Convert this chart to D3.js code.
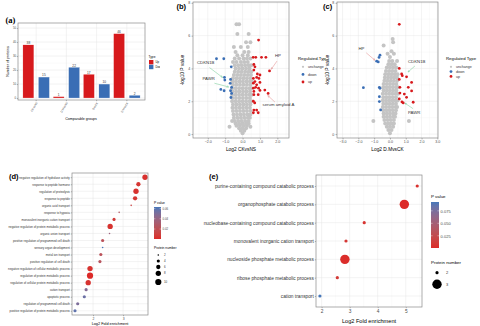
<!DOCTYPE html>
<html>
<head>
<meta charset="utf-8">
<script src="https://cdn.jsdelivr.net/npm/d3@7/dist/d3.min.js"></script>
<style>
  body { margin: 0; background: #fff; }
  svg { display: block; font-family: "Liberation Sans", Arial, sans-serif; }
</style>
</head>
<body>
<div id="chart"></div>
<script>
// (a) differentially expressed proteins per comparison
const groups = ["CKvsNS", "D.MvsNS", "DvsCK", "D.MvsCK"];
const types = ["Up", "Down"];
const upCounts = [38, 1, 17, 46];
const downCounts = [15, 22, 10, 2];
const countTicks = [0, 10, 20, 30, 40, 50];

// (b) volcano CKvsNS : [log2 fc, -log10 p]
const upB = [[0.92,5.73],[0.61,4.68],[0.76,4.68],[1.09,4.68],[1.34,4.68],[0.65,4.24],[0.71,4.1],[0.65,3.9],
  [1.55,3.85],[0.85,3.66],[1.0,3.6],[0.81,3.45],[0.94,3.39],[0.62,3.39],[0.71,3.2],[0.62,3.1],[0.81,3.0],
  [1.0,3.15],[0.75,2.85],[0.92,2.8],[0.62,2.8],[0.65,2.6],[1.0,2.66],[1.28,2.68],[1.47,2.48],[0.9,2.4],
  [0.65,2.4],[0.62,2.0],[0.7,1.9],[0.65,1.46],[0.81,1.46],[0.62,1.3],[0.9,1.3]];
const downB = [[-1.5,4.59],[-1.08,4.59],[-0.65,4.1],[-1.04,3.45],[-1.02,3.29],[-0.69,3.33],[-0.71,3.09],
  [-0.63,2.84],[-1.25,2.72],[-1.06,2.64],[-0.69,2.64],[-0.63,2.48],[-0.67,2.23]];
// unchanged proteins, one row per -log10 p level
const greyB = [
  [0.05,[0.0]],[0.2,[-0.1,0.1]],[0.35,[-0.2,0.0,0.2]],[0.45,[-0.75,0.45]],[0.5,[-0.35,-0.15,0.05,0.25]],
  [0.65,[-0.4,-0.2,0.0,0.2,0.35]],[0.8,[-0.6,-0.45,-0.25,-0.05,0.15,0.35]],[1.0,[-0.5,-0.3,-0.1,0.1,0.3,0.42]],
  [1.2,[-0.52,-0.32,-0.12,0.08,0.28,0.45]],[1.4,[-0.55,-0.35,-0.15,0.05,0.25,0.45]],
  [1.6,[-0.58,-0.38,-0.18,0.02,0.22,0.42]],[1.8,[-0.55,-0.35,-0.15,0.05,0.25,0.45]],
  [2.0,[-0.6,-0.4,-0.2,0.0,0.2,0.4,0.5]],[2.2,[-0.58,-0.38,-0.18,0.02,0.22,0.42]],
  [2.4,[-0.6,-0.4,-0.2,0.0,0.2,0.4,0.52]],[2.6,[-0.57,-0.37,-0.17,0.03,0.23,0.43]],
  [2.8,[-0.6,-0.4,-0.2,0.0,0.2,0.4,0.5]],[3.0,[-0.55,-0.35,-0.15,0.05,0.25,0.45]],
  [3.2,[-0.58,-0.38,-0.18,0.02,0.22,0.42,0.52]],[3.4,[-0.55,-0.35,-0.15,0.05,0.25,0.45]],
  [3.6,[-0.5,-0.3,-0.1,0.1,0.3,0.48]],[3.8,[-0.45,-0.25,-0.05,0.15,0.35,0.5]],
  [4.0,[-0.4,-0.2,0.0,0.2,0.4]],[4.2,[-0.45,-0.25,-0.05,0.15,0.35,0.5]],[4.4,[-0.55,-0.35,-0.1,0.1,0.3]],
  [4.6,[-0.45,-0.2,0.05,0.25,0.45]],[4.8,[-0.3,0.0,0.3]],[5.0,[-0.4,0.1,0.35]],[5.3,[-0.5,-0.1,0.3]],
  [5.6,[0.2,0.45]],[6.1,[-0.3,0.35]],[6.7,[-0.35,-0.2]]
];
const genesB = ["CDKN1B", "PAWR", "HP", "serum amyloid A"];

// (c) volcano D.MvsCK
const upC = [[0.59,6.69],[0.59,4.0],[0.74,3.66],[0.78,3.56],[1.05,3.49],[0.59,3.33],[1.37,3.15],[0.63,2.85],
  [1.16,2.85],[1.37,2.63],[0.91,2.44],[0.63,2.5],[1.05,2.24],[0.59,2.14],[0.76,1.96],[0.84,1.9],[1.47,1.94]];
const downC = [[-0.63,4.81],[-0.69,4.67],[-0.84,4.44],[-0.74,4.4],[-1.68,2.83],[-0.67,2.85],[-0.63,2.79],
  [-0.67,2.28],[-0.67,1.98],[-0.59,1.47]];
const greyC = [
  [0.05,[0.0]],[0.25,[-0.1,0.1]],[0.45,[-0.2,0.0,0.2]],[0.65,[-0.3,-0.1,0.1,0.25]],[0.8,[-1.05,1.2]],
  [0.85,[-0.35,-0.15,0.05,0.25]],[1.05,[-0.4,-0.2,0.0,0.2,0.32]],[1.25,[-0.4,-0.2,0.0,0.2,0.35]],
  [1.45,[-0.42,-0.22,-0.02,0.18,0.38]],[1.65,[-0.45,-0.25,-0.05,0.15,0.35,0.45]],
  [1.85,[-0.42,-0.22,-0.02,0.18,0.38]],[2.05,[-0.45,-0.25,-0.05,0.15,0.35,0.48]],
  [2.25,[-0.42,-0.22,-0.02,0.18,0.38]],[2.45,[-0.45,-0.25,-0.05,0.15,0.35,0.5]],
  [2.65,[-0.4,-0.2,0.0,0.2,0.4]],[2.85,[-0.42,-0.22,-0.02,0.18,0.38,0.5]],[3.05,[-0.4,-0.2,0.0,0.2,0.4]],
  [3.25,[-0.35,-0.15,0.05,0.25,0.45]],[3.45,[-0.32,-0.12,0.08,0.28,0.45]],[3.65,[-0.3,-0.1,0.1,0.3,0.48]],
  [3.85,[-0.25,-0.05,0.15,0.35]],[4.05,[-0.2,0.0,0.2,0.4]],[4.25,[-0.1,0.1,0.3]],[4.45,[-0.05,0.15,0.45]],
  [4.7,[0.0]],[4.9,[-0.15,0.25]],[5.05,[0.1]],[5.4,[-0.4]],[5.6,[0.2]],[5.8,[0.17]]
];
const genesC = ["HP", "CDKN1B", "PAWR"];
const regTypes = ["unchange", "down", "up"];

// (d) GO terms
const termsD = [
  "negative regulation of hydrolase activity", "response to peptide hormone", "regulation of proteolysis",
  "response to peptide", "organic acid transport", "response to hypoxia", "monovalent inorganic cation transport",
  "negative regulation of protein metabolic process", "organic anion transport",
  "positive regulation of programmed cell death", "sensory organ development", "metal ion transport",
  "positive regulation of cell death", "negative regulation of cellular metabolic process",
  "regulation of protein metabolic process", "regulation of cellular protein metabolic process",
  "cation transport", "apoptotic process", "regulation of programmed cell death",
  "positive regulation of protein metabolic process"
];
const foldD = [3.73, 3.51, 3.43, 3.4, 3.27, 2.87, 2.7, 2.57, 2.55, 2.32, 2.32, 2.26, 2.23, 1.9, 1.9, 1.84, 1.77, 1.71, 1.49, 1.4];
const pD = [0.003, 0.005, 0.004, 0.006, 0.012, 0.028, 0.008, 0.004, 0.038, 0.022, 0.063, 0.022, 0.024, 0.004, 0.0005, 0.004, 0.048, 0.055, 0.05, 0.058];
const countD = [8, 6, 8, 6, 2, 2, 4, 8, 2, 4, 2, 4, 4, 8, 10, 8, 4, 4, 4, 4];
const sizeTicksD = [2, 4, 6, 8, 10];
const pTicksD = [0.02, 0.04, 0.06];

// (e) GO terms
const termsE = [
  "purine-containing compound catabolic process", "organophosphate catabolic process",
  "nucleobase-containing compound catabolic process", "monovalent inorganic cation transport",
  "nucleoside phosphate metabolic process", "ribose phosphate metabolic process", "cation transport"
];
const foldE = [5.41, 4.95, 3.52, 2.87, 2.83, 2.56, 1.94];
const pE = [0.004, 0.0005, 0.006, 0.008, 0.002, 0.01, 0.0927];
const countE = [2, 3, 2, 2, 3, 2, 2];
const sizeTicksE = [2, 3];
const pTicksE = [0.025, 0.05, 0.075];

const RED = "#d7191c", BLUE = "#3a6eb5", GREY = "#c4c4c4";
const FRAME = "#8a8a8a", MAJ = "#e4e4e4", MIN = "#f1f1f1";
const PLOW = "#dc2a28", PHIGH = "#4777b9";

const svg = d3.select("#chart").append("svg").attr("width", 480).attr("height", 326);
const defs = svg.append("defs");

function styleAxis(sel, fs, col) {
  sel.attr("font-family", null).attr("font-size", fs);
  sel.select(".domain").remove();
  sel.selectAll(".tick line").attr("stroke", "#555").attr("stroke-width", 0.4);
  sel.selectAll(".tick text").attr("fill", col || "#4d4d4d");
}

function vLines(g, vals, x, y0, y1, col, w) {
  g.append("g").selectAll("line").data(vals).join("line")
    .attr("x1", d => x(d)).attr("x2", d => x(d)).attr("y1", y0).attr("y2", y1)
    .attr("stroke", col).attr("stroke-width", w);
}
function hLines(g, vals, y, x0, x1, col, w) {
  g.append("g").selectAll("line").data(vals).join("line")
    .attr("y1", d => y(d)).attr("y2", d => y(d)).attr("x1", x0).attr("x2", x1)
    .attr("stroke", col).attr("stroke-width", w);
}
function frame(g, x0, y0, x1, y1) {
  g.append("rect").attr("x", x0).attr("y", y0).attr("width", x1 - x0).attr("height", y1 - y0)
    .attr("fill", "none").attr("stroke", FRAME).attr("stroke-width", 0.7);
}
function panelLabel(txt, x, y, serif) {
  svg.append("text").attr("x", x).attr("y", y).text(txt)
    .attr("font-size", serif ? 8.5 : 7.5).attr("font-weight", "bold")
    .attr("font-family", serif ? "Liberation Serif, serif" : null);
}

// ---------------- (a) ----------------
{
  const g = svg.append("g");
  const x0 = d3.scaleBand().domain(groups).range([18, 145]).paddingOuter(0.1);
  const x1 = d3.scaleBand().domain(types).range([0, x0.bandwidth()]).paddingInner(0.29).paddingOuter(0.12);
  const y = d3.scaleLinear().domain([-1.4, 53.6]).range([100, 23]);
  const color = d3.scaleOrdinal().domain(types).range([RED, BLUE]);
  hLines(g, [5, 15, 25, 35, 45], y, 18, 145, MIN, 0.3);
  hLines(g, countTicks, y, 18, 145, MAJ, 0.45);
  vLines(g, groups.map(d => d), d => x0(d) + x0.bandwidth() / 2, 23, 100, MAJ, 0.45);
  const rows = groups.flatMap((grp, i) => [
    { grp, type: "Up", v: upCounts[i] }, { grp, type: "Down", v: downCounts[i] }
  ]);
  g.selectAll(".bar").data(rows).join("rect").attr("class", "bar")
    .attr("x", d => x0(d.grp) + x1(d.type)).attr("width", x1.bandwidth())
    .attr("y", d => y(d.v)).attr("height", d => y(0) - y(d.v))
    .attr("fill", d => color(d.type)).attr("stroke", "#fff").attr("stroke-width", 0.3);
  g.selectAll(".val").data(rows).join("text").attr("class", "val")
    .attr("x", d => x0(d.grp) + x1(d.type) + x1.bandwidth() / 2).attr("y", d => y(d.v) - 0.7)
    .attr("text-anchor", "middle").attr("font-size", 3.2).attr("fill", "#333").text(d => d.v);
  frame(g, 18, 23, 145, 100);
  const ay = g.append("g").attr("transform", "translate(18,0)")
    .call(d3.axisLeft(y).tickValues(countTicks).tickSize(1.2).tickPadding(0.8));
  styleAxis(ay, 2.8);
  const ax = g.append("g").attr("transform", "translate(0,100)")
    .call(d3.axisBottom(x0).tickSize(1.2));
  styleAxis(ax, 2.8);
  ax.selectAll(".tick text").attr("y", 0).attr("dy", 0).attr("text-anchor", "end")
    .attr("transform", "translate(1.5,2.8) rotate(-60)");
  g.append("text").attr("x", 81).attr("y", 120).attr("text-anchor", "middle")
    .attr("font-size", 3.6).text("Comparable groups");
  g.append("text").attr("transform", "translate(8.5,61.5) rotate(-90)").attr("text-anchor", "middle")
    .attr("font-size", 3.6).text("Number of proteins");
  defs.append("clipPath").attr("id", "clipA").append("rect")
    .attr("x", 140).attr("y", 40).attr("width", 20).attr("height", 40);
  const lg = g.append("g").attr("clip-path", "url(#clipA)");
  lg.append("text").attr("x", 148.5).attr("y", 58).attr("font-size", 3.2).text("Type");
  lg.selectAll("rect").data(types).join("rect")
    .attr("x", 149).attr("y", (d, i) => 60 + i * 4.8).attr("width", 4.4).attr("height", 4.4)
    .attr("fill", d => color(d));
  lg.selectAll(".lt").data(types).join("text").attr("class", "lt")
    .attr("x", 155.5).attr("y", (d, i) => 63.3 + i * 4.8).attr("font-size", 2.8).text(d => d);
  panelLabel("(a)", 5.5, 23, true);
}

// arrow markers
[["arrG", "#6cc891"], ["arrR", "#e08585"]].forEach(([id, c]) => {
  defs.append("marker").attr("id", id).attr("viewBox", "0 0 10 10").attr("refX", 9).attr("refY", 5)
    .attr("markerWidth", 5).attr("markerHeight", 5).attr("orient", "auto")
    .append("path").attr("d", "M0,1 L9,5 L0,9").attr("fill", "none").attr("stroke", c).attr("stroke-width", 1.5);
});

// ---------------- volcano ----------------
function volcano(o) {
  const g = svg.append("g");
  const x = d3.scaleLinear().domain(o.xDom).range([o.left, o.right]);
  const y = d3.scaleLinear().domain([-0.24, 8.05]).range([o.bottom, o.top]);
  vLines(g, o.xMinor, x, o.top, o.bottom, MIN, 0.3);
  hLines(g, [1, 3, 5, 7], y, o.left, o.right, MIN, 0.3);
  vLines(g, o.xTicks, x, o.top, o.bottom, MAJ, 0.45);
  hLines(g, [0, 2, 4, 6, 8], y, o.left, o.right, MAJ, 0.45);
  const grey = o.grey.flatMap(([yv, xs]) => xs.map(xv => [xv, yv]));
  g.append("g").selectAll("circle").data(grey).join("circle")
    .attr("cx", d => x(d[0])).attr("cy", d => y(d[1])).attr("r", 2.0).attr("fill", GREY);
  g.append("g").selectAll("circle").data(o.down).join("circle")
    .attr("cx", d => x(d[0])).attr("cy", d => y(d[1])).attr("r", 1.4).attr("fill", BLUE);
  g.append("g").selectAll("circle").data(o.up).join("circle")
    .attr("cx", d => x(d[0])).attr("cy", d => y(d[1])).attr("r", 1.4).attr("fill", RED);
  frame(g, o.left, o.top, o.right, o.bottom);
  const ax = g.append("g").attr("transform", `translate(0,${o.bottom})`)
    .call(d3.axisBottom(x).tickValues(o.xTicks).tickSize(1.5).tickPadding(1.2));
  styleAxis(ax, 3.6);
  const ay = g.append("g").attr("transform", `translate(${o.left},0)`)
    .call(d3.axisLeft(y).tickValues([0, 2, 4, 6, 8]).tickSize(1.5).tickPadding(1.2));
  styleAxis(ay, 3.6);
  g.append("text").attr("x", (o.left + o.right) / 2).attr("y", o.bottom + 13).attr("text-anchor", "middle")
    .attr("font-size", 4.8).text(o.xTitle);
  g.append("text").attr("transform", `translate(${o.yTitleX},${(o.top + o.bottom) / 2}) rotate(-90)`)
    .attr("text-anchor", "middle").attr("font-size", 4.8).text("-log10 P value");
  // gene call-outs: text position and arrow in data units
  o.notes.forEach(n => {
    g.append("line").attr("x1", x(n.from[0])).attr("y1", y(n.from[1]))
      .attr("x2", x(n.to[0])).attr("y2", y(n.to[1]))
      .attr("stroke", n.green ? "#6cc891" : "#e08585").attr("stroke-width", 0.5)
      .attr("marker-end", `url(#${n.green ? "arrG" : "arrR"})`);
    g.append("text").attr("x", x(n.at[0])).attr("y", y(n.at[1])).attr("text-anchor", n.anchor || "start")
      .attr("font-size", 4.3).attr("fill", "#333").text(n.gene);
  });
  // legend
  const lg = g.append("g");
  if (o.clip) lg.attr("clip-path", `url(#${o.clip})`);
  lg.append("text").attr("x", o.legX).attr("y", o.legY).attr("font-size", 4.3).text(o.legTitle);
  const col = { unchange: GREY, down: BLUE, up: RED };
  regTypes.forEach((t, i) => {
    const yy = o.legY + 8 + i * o.legStep;
    lg.append("circle").attr("cx", o.legX + 5).attr("cy", yy - 1.2).attr("r", t === "unchange" ? 1.1 : 1.4)
      .attr("fill", col[t]);
    lg.append("text").attr("x", o.legX + 10).attr("y", yy).attr("font-size", 3.6).attr("fill", "#333").text(t);
  });
}

defs.append("clipPath").attr("id", "clipB").append("rect")
  .attr("x", 290).attr("y", 40).attr("width", 36).attr("height", 60);

volcano({
  left: 193, right: 289, top: 2, bottom: 138, xDom: [-2.85, 2.67],
  xTicks: [-2, -1, 0, 1, 2], xMinor: [-2.5, -1.5, -0.5, 0.5, 1.5, 2.5],
  grey: greyB, up: upB, down: downB, xTitle: "Log2 CKvsNS", yTitleX: 184,
  legX: 298, legY: 60, legStep: 7.6, legTitle: "Regulated.Type", clip: "clipB",
  notes: [
    { gene: genesB[0], at: [-2.62, 4.3], from: [-1.9, 4.05], to: [-1.15, 3.45], green: true },
    { gene: genesB[1], at: [-2.3, 3.28], from: [-1.62, 3.1], to: [-0.8, 2.87], green: true },
    { gene: genesB[2], at: [1.86, 4.72], from: [1.98, 4.45], to: [1.65, 3.95] },
    { gene: genesB[3], at: [1.15, 1.7], from: [1.86, 1.95], to: [1.45, 2.35] }
  ]
});
panelLabel("(b)", 176.5, 9);

volcano({
  left: 337, right: 438, top: 2, bottom: 138, xDom: [-3.35, 3.04],
  xTicks: [-3, -2, -1, 0, 1, 2, 3], xMinor: [-2.5, -1.5, -0.5, 0.5, 1.5, 2.5],
  grey: greyC, up: upC, down: downC, xTitle: "Log2 D.MvsCK", yTitleX: 329,
  legX: 446, legY: 60, legStep: 4.8, legTitle: "Regulated Type",
  notes: [
    { gene: genesC[0], at: [-1.8, 5.1], anchor: "middle", from: [-1.5, 4.95], to: [-0.95, 4.5] },
    { gene: genesC[1], at: [1.14, 4.35], from: [1.58, 4.15], to: [1.14, 3.78], green: true },
    { gene: genesC[2], at: [1.14, 1.25], from: [1.46, 1.55], to: [0.95, 1.88], green: true }
  ]
});
panelLabel("(c)", 323, 9);

// ---------------- enrichment bubbles ----------------
function bubbles(o) {
  const g = svg.append("g");
  const x = d3.scaleLinear().domain(o.xDom).range([o.left, o.right]);
  const y = d3.scalePoint().domain(o.terms).range([o.top, o.bottom]).padding(0.6);
  const c = d3.scaleLinear().domain(d3.extent(o.p)).range([PLOW, PHIGH]).interpolate(d3.interpolateLab);
  const r = d3.scaleSqrt().domain(o.rDom).range(o.rRange);
  vLines(g, o.xMinor, x, o.top, o.bottom, MIN, 0.3);
  vLines(g, o.xTicks, x, o.top, o.bottom, MAJ, 0.45);
  hLines(g, o.terms, y, o.left, o.right, MAJ, 0.45);
  const rows = o.terms.map((t, i) => ({ t, f: o.fold[i], p: o.p[i], n: o.count[i] }));
  g.selectAll("circle").data(rows).join("circle")
    .attr("cx", d => x(d.f)).attr("cy", d => y(d.t)).attr("r", d => r(d.n)).attr("fill", d => c(d.p));
  frame(g, o.left, o.top, o.right, o.bottom);
  const ay = g.append("g").attr("transform", `translate(${o.left},0)`)
    .call(d3.axisLeft(y).tickSize(1.2).tickPadding(1));
  styleAxis(ay, o.fs, "#333");
  const ax = g.append("g").attr("transform", `translate(0,${o.bottom})`)
    .call(d3.axisBottom(x).tickValues(o.xTicks).tickFormat(d3.format("d")).tickSize(1.2).tickPadding(1));
  styleAxis(ax, o.tfs);
  g.append("text").attr("x", (o.left + o.right) / 2).attr("y", o.titleY).attr("text-anchor", "middle")
    .attr("font-size", o.titleFs).text("Log2 Fold enrichment");
  // colour bar
  const L = o.leg;
  const gid = o.id + "grad";
  const grad = defs.append("linearGradient").attr("id", gid).attr("x1", 0).attr("x2", 0).attr("y1", 1).attr("y2", 0);
  d3.range(0, 1.01, 0.1).forEach(t => grad.append("stop").attr("offset", t)
    .attr("stop-color", c(c.domain()[0] + t * (c.domain()[1] - c.domain()[0]))));
  g.append("text").attr("x", L.x).attr("y", L.y).attr("font-size", L.fs).text("P value");
  g.append("rect").attr("x", L.x).attr("y", L.y + L.gap).attr("width", L.w).attr("height", L.h)
    .attr("fill", `url(#${gid})`);
  const cb = d3.scaleLinear().domain(c.domain()).range([L.y + L.gap + L.h, L.y + L.gap]);
  g.append("g").attr("transform", `translate(${L.x + L.w},0)`)
    .call(d3.axisRight(cb).tickValues(o.pTicks).tickFormat(d3.format(o.pFmt)).tickSize(0).tickPadding(1.6))
    .call(s => styleAxis(s, L.fs - 0.4));
  g.append("g").selectAll("line").data(o.pTicks).join("line")
    .attr("x1", L.x).attr("x2", L.x + L.w * 0.2).attr("y1", d => cb(d)).attr("y2", d => cb(d))
    .attr("stroke", "#fff").attr("stroke-width", 0.4);
  g.append("g").selectAll("line").data(o.pTicks).join("line")
    .attr("x1", L.x + L.w * 0.8).attr("x2", L.x + L.w).attr("y1", d => cb(d)).attr("y2", d => cb(d))
    .attr("stroke", "#fff").attr("stroke-width", 0.4);
  g.append("text").attr("x", L.x).attr("y", L.sy).attr("font-size", L.fs).text("Protein number");
  o.sizeTicks.forEach((s, i) => {
    g.append("circle").attr("cx", L.x + L.dx).attr("cy", L.sRows[i]).attr("r", r(s)).attr("fill", "#000");
    g.append("text").attr("x", L.x + L.tx).attr("y", L.sRows[i] + L.fs * 0.35).attr("font-size", L.fs - 0.4)
      .attr("fill", "#333").text(s);
  });
}

bubbles({
  id: "d", terms: termsD, fold: foldD, p: pD, count: countD,
  left: 72, right: 148, top: 173, bottom: 315, xDom: [1.3, 3.83], xTicks: [2, 3], xMinor: [1.5, 2.5, 3.5],
  rDom: [2, 10], rRange: [0.8, 3.1], fs: 2.9, tfs: 3.4, titleY: 324.5, titleFs: 3.8,
  pTicks: pTicksD, pFmt: ".2f", sizeTicks: sizeTicksD,
  leg: { x: 154, y: 204, gap: 3, w: 7, h: 32, fs: 3.3, sy: 249, sRows: [255, 261, 267, 273.3, 282], dx: 4.3, tx: 10 }
});
panelLabel("(d)", 9, 179);

bubbles({
  id: "e", terms: termsE, fold: foldE, p: pE, count: countE,
  left: 316, right: 422, top: 175, bottom: 307, xDom: [1.8, 5.58], xTicks: [2, 3, 4, 5], xMinor: [2.5, 3.5, 4.5, 5.5],
  rDom: [2, 3], rRange: [1.6, 4.7], fs: 4.8, tfs: 4.8, titleY: 323, titleFs: 5.6,
  pTicks: pTicksE, pFmt: ".3f", sizeTicks: sizeTicksE,
  leg: { x: 431, y: 197.5, gap: 4.5, w: 8, h: 46, fs: 4.4, sy: 264, sRows: [272.7, 284.3], dx: 6, tx: 15 }
});
panelLabel("(e)", 209, 179);
</script>
</body>
</html>
